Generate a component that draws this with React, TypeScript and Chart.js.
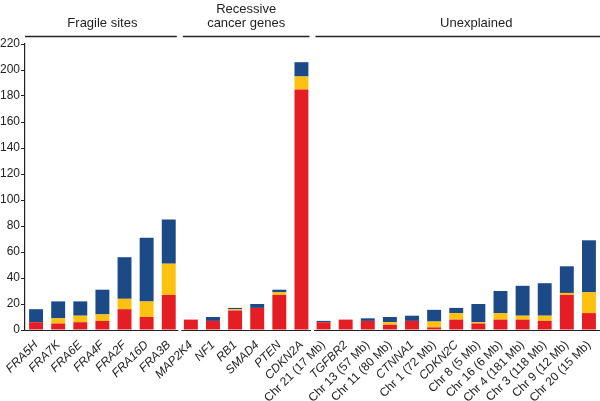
import React, { useEffect, useRef } from "react";
import { Chart, registerables } from "chart.js";

Chart.register(...registerables);

const categories = [
  "FRA5H", "FRA7K", "FRA6E", "FRA4F", "FRA2F", "FRA16D", "FRA3B",
  "MAP2K4", "NF1", "RB1", "SMAD4", "PTEN", "CDKN2A",
  "Chr 21 (17 Mb)", "TGFBR2", "Chr 13 (57 Mb)", "Chr 11 (80 Mb)", "CTNNA1", "Chr 1 (72 Mb)",
  "CDKN2C", "Chr 8 (5 Mb)", "Chr 16 (6 Mb)", "Chr 4 (181 Mb)", "Chr 3 (118 Mb)", "Chr 9 (12 Mb)", "Chr 20 (15 Mb)",
];

const redValues = [6, 5, 6, 7, 16, 10, 27, 8, 7, 15, 17, 27, 185, 6, 8, 7, 4, 7, 2, 8, 5, 8, 8, 7, 27, 13];
const yellowValues = [0, 4, 5, 5, 8, 12, 24, 0, 0, 1, 0, 2, 10, 0, 0, 0, 2, 0, 4.5, 5, 1, 5, 3, 4, 1.5, 16];
const blueValues = [10, 13, 11, 19, 32, 49, 34, 0, 3, 1, 3, 2, 11, 1, 0, 2, 4, 4, 9, 4, 14, 17, 23, 25, 20.5, 40];

const groupNames = [["Fragile sites"], ["Recessive", "cancer genes"], ["Unexplained"]];
const groupSizes = [7, 6, 13];

const yTicks = [0, 20, 40, 60, 80, 100, 120, 140, 160, 180, 200, 220];

const FONT = "'Liberation Sans', Arial, Helvetica, sans-serif";
const INK = "#222222";

const groupsPlugin = {
  id: "groups",
  afterDraw(chart: any) {
    const ctx = chart.ctx;
    const xs = chart.scales.x;
    const area = chart.chartArea;
    const bounds: number[] = [];
    let idx = 0;
    for (let g = 0; g < groupSizes.length - 1; g++) {
      idx += groupSizes[g];
      bounds.push((xs.getPixelForValue(idx - 1) + xs.getPixelForValue(idx)) / 2);
    }
    const starts = [area.left, ...bounds];
    const ends = [...bounds, chart.width];
    ctx.save();
    ctx.strokeStyle = INK;
    ctx.lineWidth = 1.2;
    for (let g = 0; g < starts.length; g++) {
      const a = g === 0 ? starts[g] : starts[g] + 1.5;
      const b = g === ends.length - 1 ? ends[g] : ends[g] - 1.5;
      ctx.beginPath();
      ctx.moveTo(a, area.bottom + 0.5);
      ctx.lineTo(b, area.bottom + 0.5);
      ctx.stroke();
    }
    ctx.lineWidth = 1.6;
    const lineY = 36.5;
    for (let g = 0; g < starts.length; g++) {
      const a = g === 0 ? starts[g] : starts[g] + 3;
      const b = g === ends.length - 1 ? ends[g] : ends[g] - 3;
      ctx.beginPath();
      ctx.moveTo(a, lineY);
      ctx.lineTo(b, lineY);
      ctx.stroke();
    }
    ctx.fillStyle = INK;
    ctx.font = `13px ${FONT}`;
    ctx.textAlign = "center";
    ctx.textBaseline = "middle";
    for (let g = 0; g < starts.length; g++) {
      let cx = (starts[g] + ends[g]) / 2;
      if (g === starts.length - 1) cx += 20;
      const lines = groupNames[g];
      lines.forEach((t, i) => {
        const y = 23 - (lines.length - 1 - i) * 14;
        ctx.fillText(t, cx, y);
      });
    }
    ctx.restore();
  },
};

export default function App() {
  const ref = useRef<HTMLCanvasElement>(null);
  useEffect(() => {
    document.body.style.margin = "0";
    const chart = new Chart(ref.current!, {
      type: "bar",
      data: {
        labels: categories,
        datasets: [
          { label: "red", data: redValues, backgroundColor: "#E51E25" },
          { label: "yellow", data: yellowValues, backgroundColor: "#FDC110" },
          { label: "blue", data: blueValues, backgroundColor: "#1C4A86" },
        ],
      },
      options: {
        responsive: false,
        animation: false,
        layout: { padding: { top: 44, right: 0, left: 0, bottom: 0 } },
        plugins: { legend: { display: false }, tooltip: { enabled: false } },
        datasets: { bar: { barPercentage: 0.63, categoryPercentage: 1 } },
        scales: {
          x: {
            stacked: true,
            border: { display: false },
            grid: { display: false },
            afterFit: (s: any) => { s.height = 71; },
            ticks: {
              autoSkip: false,
              maxRotation: 45,
              minRotation: 45,
              padding: 0,
              color: INK,
              font: (c: any) => {
                const lbl = categories[c.index] || "";
                return { family: FONT, size: 12, style: lbl.startsWith("Chr") ? "normal" : "italic" };
              },
            },
          },
          y: {
            stacked: true,
            min: 0,
            max: 220,
            afterFit: (s: any) => { s.width = 25; },
            afterBuildTicks: (s: any) => { s.ticks = yTicks.map((v) => ({ value: v })); },
            border: { display: true, color: INK, width: 1.2 },
            grid: { drawOnChartArea: false, drawTicks: true, tickLength: 4, color: INK },
            ticks: { color: INK, padding: 1, font: { family: FONT, size: 12 } },
          },
        },
      },
      plugins: [groupsPlugin],
    });
    return () => chart.destroy();
  }, []);
  return (
    <div style={{ position: "fixed", left: 0, top: 0, width: 600, height: 401 }}>
      <canvas ref={ref} width={600} height={401} />
    </div>
  );
}
